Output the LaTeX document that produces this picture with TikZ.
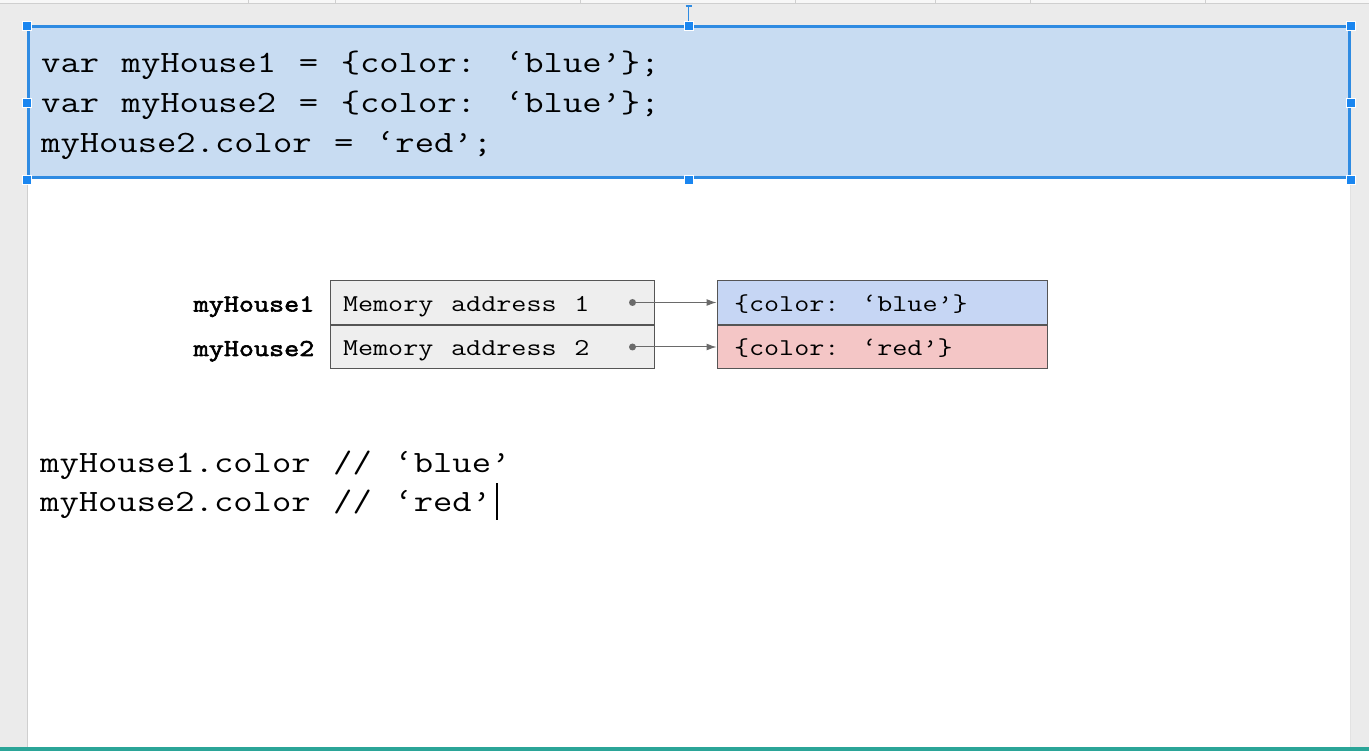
\documentclass[tikz,border=0pt]{standalone}
\usepackage{fontspec}
\usepackage{xcolor}
\usetikzlibrary{arrows.meta,positioning}

\newfontfamily\codefont[FakeStretch=1.21,WordSpace=1.17]{Latin Modern Mono}
\newfontfamily\labelfont[FakeStretch=1.21,WordSpace=1.17,FakeBold=2.5]{Latin Modern Mono}

\definecolor{pagegray}{HTML}{EBEBEB}
\definecolor{edgegray}{HTML}{CFCFCF}
\definecolor{selfill}{HTML}{C8DCF2}
\definecolor{selblue}{HTML}{2F8BE2}
\definecolor{handleblue}{HTML}{1A86F0}
\definecolor{cellgray}{HTML}{EEEEEE}
\definecolor{cellborder}{HTML}{555555}
\definecolor{objblue}{HTML}{C6D6F4}
\definecolor{objred}{HTML}{F4C6C6}
\definecolor{ptrgray}{HTML}{6A6A6A}
\definecolor{barteal}{HTML}{2BA598}

\begin{document}
\begin{tikzpicture}[x=1pt,y=-1pt,
    codetext/.style={anchor=base west,inner sep=0pt,font=\codefont\fontsize{31}{40}\selectfont},
    selbox/.style={draw=selblue,line width=3pt,fill=selfill,inner sep=0pt},
    handle/.style={draw=white,line width=0.8pt,fill=handleblue,minimum size=9pt,inner sep=0pt},
    cell/.style={draw=cellborder,line width=1pt,minimum height=43.5pt,inner ysep=0pt,
        text height=19pt,text depth=1pt,align=left,font=\codefont\fontsize{24.2}{30}\selectfont,
        execute at begin node={\spaceskip=0pt\xspaceskip=0pt}},
    addrcell/.style={cell,fill=cellgray,text width=298pt,inner xsep=13pt},
    objcell/.style={cell,text width=296pt,inner xsep=17pt},
    varlabel/.style={anchor=base east,inner sep=0pt,font=\labelfont\fontsize{24.2}{30}\selectfont},
    ptr/.style={draw=ptrgray,line width=1pt,-{Latex[length=10pt,width=7pt]}},
    cursor/.style={line width=2pt}]
    \useasboundingbox (0,0) rectangle (1369,751);

    % Editor background and slide
    \fill[pagegray] (0,0) rectangle (1369,751);
    \fill[white!60!pagegray] (0,0) rectangle (1369,3);
    \draw[edgegray,line width=0.6pt] (0,3) -- (1369,3);
    \foreach \x in {248,335,580,795,935,1030,1205}
        \draw[edgegray,line width=0.6pt] (\x,0) -- (\x,3);
    \fill[white] (27,27) rectangle (1350,747);
    \draw[edgegray,line width=1pt] (27,27) -- (27,747);
    \draw[edgegray!60,line width=1pt] (1350,27) -- (1350,747);
    \fill[barteal] (0,747) rectangle (1369,751);

    % Selected code box
    \node[selbox,minimum width=1321pt,minimum height=151pt] (codebox) at (688.5,102.5) {};
    \coordinate (rot) at ([yshift=19pt]codebox.north);
    \draw[selblue,line width=1.2pt] (rot) -- (codebox.north);
    \draw[selblue,line width=2pt] ([xshift=-3pt]rot) -- ([xshift=3pt]rot);
    \foreach \a/\n in {north west/nw,north/n,north east/ne,west/w,east/e,south west/sw,south/s,south east/se}
        \node[handle] (h\n) at (codebox.\a) {};
    \node[codetext] (code1) at (41,73) {var myHouse1 = \{color: ‘blue’\};};
    \node[codetext] (code2) at (41,113) {var myHouse2 = \{color: ‘blue’\};};
    \node[codetext] (code3) at (41,153) {myHouse2.color = ‘red’;};

    % Memory table
    \node[addrcell] (addr1) at (492,302.5) {Memory address 1};
    \node[addrcell,below=0pt of addr1] (addr2) {Memory address 2};
    \node[objcell,fill=objblue,right=62pt of addr1] (obj1) {\{color: ‘blue’\}};
    \node[objcell,fill=objred,below=0pt of obj1] (obj2) {\{color: ‘red’\}};
    \node[varlabel] (lbl1) at ([xshift=-15pt]addr1.base west) {myHouse1};
    \node[varlabel] (lbl2) at ([xshift=-15pt]addr2.base west) {myHouse2};

    % Pointers
    \foreach \i in {1,2} {
        \coordinate (dot\i) at ([xshift=-22pt]addr\i.east);
        \fill[ptrgray] (dot\i) circle (3.5pt);
        \draw[ptr] (dot\i) -- (obj\i.west);
    }

    % Results
    \node[codetext] (out1) at (40,472) {myHouse1.color // ‘blue’};
    \node[codetext] (out2) at (40,511) {myHouse2.color // ‘red’};
    \draw[cursor] ([xshift=6pt,yshift=28pt]out2.base east) -- ([xshift=6pt,yshift=-9pt]out2.base east);
\end{tikzpicture}
\end{document}
